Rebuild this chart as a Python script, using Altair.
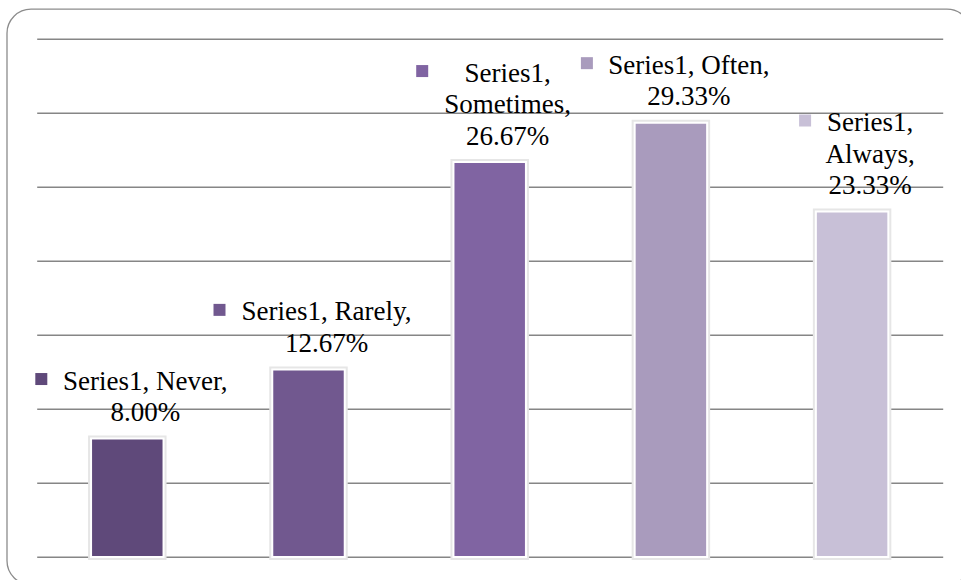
import altair as alt
import pandas as pd

# ---- data ----
categories = ["Never", "Rarely", "Sometimes", "Often", "Always"]
values = [8.00, 12.67, 26.67, 29.33, 23.33]
series_name = "Series1"
bar_colors = ["#5F497A", "#71588F", "#8064A2", "#A99BBD", "#C8C0D7"]
# labels that wrap onto three lines in the reference
wrap_label = [False, False, True, False, True]

# ---- styling ----
FONT = "Liberation Serif"
FONT_SIZE = 27
LINE_H = 31.5
GRID_COLOR = "#868686"
TEXT_DX = 18
LABEL_GAP = 17.5          # last baseline above bar top
MARKER_DX = [-86, -89, -67.5, -84, -47]   # marker offset from bar centre
PLOT_W, PLOT_H = 906, 518.3


def make_label(cat, val, wrap):
    pct = f"{val:.2f}%"
    if wrap:
        return f"{series_name},\n{cat},\n{pct}"
    return f"{series_name}, {cat},\n{pct}"


df = pd.DataFrame({
    "cat": categories,
    "value": values,
    "label": [make_label(c, v, w) for c, v, w in zip(categories, values, wrap_label)],
})

x_enc = alt.X("cat:N", sort=categories,
              scale=alt.Scale(paddingInner=0.6, paddingOuter=0.3), axis=None)
y_enc = alt.Y("value:Q",
              scale=alt.Scale(domain=[0, 35], nice=False, zero=True),
              axis=alt.Axis(values=list(range(0, 40, 5)), grid=True, labels=False,
                            ticks=False, domain=False, title=None,
                            gridColor=GRID_COLOR, gridWidth=1.4, gridOpacity=1))
color_enc = alt.Color("cat:N", scale=alt.Scale(domain=categories, range=bar_colors),
                      legend=None)

base = alt.Chart(df)

border = alt.Chart(alt.Data(values=[{}])).mark_rect(
    fillOpacity=0, stroke="#8c8c8c", strokeWidth=1.3, cornerRadius=24
).encode(
    x=alt.value(-29.7), x2=alt.value(934.3),
    y=alt.value(-29.5), y2=alt.value(546),
)

shadow = base.mark_bar(color="#e6e6e6", stroke="#e6e6e6", strokeWidth=6).encode(
    x=x_enc, y=y_enc
)
bars = base.mark_bar(stroke="white", strokeWidth=2).encode(
    x=x_enc, y=y_enc, color=color_enc
)

label_layers = []
marker_layers = []
for cat, mdx, wrap in zip(categories, MARKER_DX, wrap_label):
    n = 3 if wrap else 2
    first_baseline = -(LABEL_GAP + (n - 1) * LINE_H)
    sub = base.transform_filter(alt.datum.cat == cat)
    label_layers.append(
        sub.mark_text(
            align="center", baseline="alphabetic", dx=TEXT_DX, dy=first_baseline,
            font=FONT, fontSize=FONT_SIZE, lineHeight=LINE_H, color="black",
            lineBreak="\n",
        ).encode(x=x_enc, y=y_enc, text="label:N")
    )
    marker_layers.append(
        sub.mark_square(size=144, opacity=1, xOffset=mdx,
                        yOffset=first_baseline - 10.5)
        .encode(x=x_enc, y=y_enc, color=color_enc)
    )

chart = alt.layer(border, shadow, bars, *label_layers, *marker_layers).properties(
    width=PLOT_W, height=PLOT_H,
    autosize=alt.AutoSizeParams(type="none"),
    padding={"left": 36.7, "top": 38.7, "right": 18.3, "bottom": 23},
    background="white",
).configure_view(stroke=None)

chart.save("out.html", embed_options={"renderer": "svg", "actions": False})
